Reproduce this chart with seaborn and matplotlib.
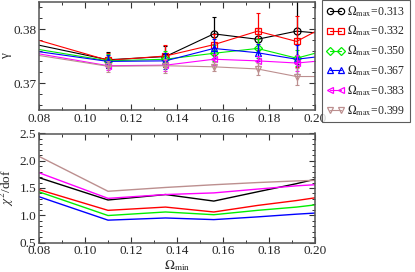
import matplotlib
matplotlib.use("Agg")
import matplotlib.pyplot as plt
from matplotlib.lines import Line2D
from matplotlib.ticker import MultipleLocator
import seaborn as sns
import pandas as pd

sns.set_style("ticks")
plt.rcParams['font.family'] = ['Liberation Serif', 'DejaVu Serif']
plt.rcParams['mathtext.fontset'] = 'stix'

omega_min = [0.08, 0.11, 0.135, 0.156, 0.175, 0.192, 0.20]
omega_max_labels = ["0.313", "0.332", "0.350", "0.367", "0.383", "0.399"]
colors = ["#000000", "#ff0000", "#00ee00", "#0000ff", "#ff00ff", "#bc8f8f"]
markers = ["o", "s", "D", "^", "<", "v"]

gamma_313 = [0.3770, 0.3743, 0.3749, 0.3791, 0.3781, 0.3796, 0.3793]
gamma_332 = [0.3779, 0.3742, 0.3750, 0.3771, 0.3796, 0.3777, 0.3795]
gamma_350 = [0.3762, 0.3741, 0.3744, 0.3755, 0.3764, 0.3746, 0.3755]
gamma_367 = [0.3758, 0.3740, 0.3741, 0.3764, 0.3756, 0.3744, 0.3748]
gamma_383 = [0.3754, 0.3732, 0.3733, 0.3744, 0.3741, 0.3737, 0.3740]
gamma_399 = [0.3751, 0.3731, 0.3732, 0.3730, 0.3726, 0.3712, 0.3712]

err_313 = [0.0, 0.0015, 0.0020, 0.0032, 0.0020, 0.0060, 0.0]
err_332 = [0.0, 0.0014, 0.0020, 0.0020, 0.0034, 0.0048, 0.0]
err_350 = [0.0, 0.0012, 0.0015, 0.0015, 0.0018, 0.0015, 0.0]
err_367 = [0.0, 0.0012, 0.0015, 0.0018, 0.0016, 0.0027, 0.0]
err_383 = [0.0, 0.0008, 0.0010, 0.0010, 0.0009, 0.0014, 0.0]
err_399 = [0.0, 0.0010, 0.0013, 0.0008, 0.0011, 0.0016, 0.0]

chi2_313 = [1.69, 1.28, 1.38, 1.26, 1.43, 1.58, 1.66]
chi2_332 = [1.47, 1.09, 1.15, 1.06, 1.18, 1.27, 1.32]
chi2_350 = [1.43, 0.995, 1.06, 1.01, 1.09, 1.15, 1.19]
chi2_367 = [1.34, 0.91, 0.95, 0.92, 0.97, 1.02, 1.04]
chi2_383 = [1.78, 1.31, 1.38, 1.41, 1.48, 1.54, 1.56]
chi2_399 = [2.08, 1.44, 1.51, 1.56, 1.60, 1.63, 1.64]

gammas = [gamma_313, gamma_332, gamma_350, gamma_367, gamma_383, gamma_399]
errs = [err_313, err_332, err_350, err_367, err_383, err_399]
chi2s = [chi2_313, chi2_332, chi2_350, chi2_367, chi2_383, chi2_399]

fig = plt.figure(figsize=(4.15, 2.72), dpi=100)
ax1 = fig.add_axes([39/415, 1-110/272, 276/415, 108/272])
ax2 = fig.add_axes([39/415, 1-242.5/272, 276/415, 109/272])

FS = 9.5
inner = [1, 2, 3, 4, 5]

for lab, c, m, g, e, ch in zip(omega_max_labels, colors, markers, gammas, errs, chi2s):
    df = pd.DataFrame({"x": omega_min, "g": g, "chi": ch})
    sns.lineplot(data=df, x="x", y="g", ax=ax1, color=c, lw=0.8,
                 marker=m, markevery=inner, markersize=5 if m != "D" else 4,
                 markerfacecolor="none", markeredgecolor=c, markeredgewidth=0.9,
                 errorbar=None, sort=False)
    xi = [omega_min[i] for i in inner]
    ax1.errorbar(xi, [g[i] for i in inner], yerr=[e[i] for i in inner],
                 fmt="none", ecolor=c, elinewidth=0.9, capsize=1.5, capthick=0.8)
    sns.lineplot(data=df, x="x", y="chi", ax=ax2, color=c, lw=1.0,
                 errorbar=None, sort=False)

for ax in (ax1, ax2):
    ax.set_xlim(0.08, 0.20)
    ax.xaxis.set_major_locator(MultipleLocator(0.02))
    ax.xaxis.set_minor_locator(MultipleLocator(0.01))
    ax.xaxis.set_major_formatter(matplotlib.ticker.FormatStrFormatter("%.2f"))
    ax.tick_params(which="both", direction="in", top=True, right=True,
                   labelsize=FS, color="#333333", pad=2)
    ax.tick_params(which="major", length=4, width=0.8)
    ax.tick_params(which="minor", length=2, width=0.7)
    for s in ax.spines.values():
        s.set_linewidth(1.1)
        s.set_color("#555555")
    ax.set_xlabel("")

ax1.set_ylim(0.365, 0.385)
ax1.yaxis.set_major_locator(MultipleLocator(0.01))
ax1.yaxis.set_minor_locator(MultipleLocator(0.002))
ax1.yaxis.set_major_formatter(matplotlib.ticker.FormatStrFormatter("%.2f"))
ax1.set_ylabel("γ", fontsize=FS)
ax1.yaxis.set_label_coords(-0.098, 0.5)

ax2.set_ylim(0.5, 2.5)
ax2.yaxis.set_major_locator(MultipleLocator(0.5))
ax2.yaxis.set_minor_locator(MultipleLocator(0.1))
ax2.yaxis.set_major_formatter(matplotlib.ticker.FormatStrFormatter("%.1f"))
ax2.set_ylabel(r"$\chi^2$/dof", fontsize=FS)
ax2.yaxis.set_label_coords(-0.083, 0.5)
ax2.set_xlabel(r"$\Omega_{\mathrm{min}}$", fontsize=FS, labelpad=1)

handles = [Line2D([0], [0], color=c, lw=0.8, marker=m,
                  markersize=4.5 if m != "D" else 3.8, markerfacecolor="none",
                  markeredgecolor=c, markeredgewidth=0.9)
           for c, m in zip(colors, markers)]
labels = [r"$\Omega_{\mathrm{max}}$=" + l for l in omega_max_labels]
leg = fig.legend(handles, labels, loc="upper left", bbox_to_anchor=(322/415, 1.0),
                 numpoints=2, handlelength=1.6, handletextpad=0.2,
                 labelspacing=0.45, borderpad=0.35, borderaxespad=0,
                 fontsize=8.5, frameon=True, fancybox=False)
leg.get_frame().set_edgecolor("#333333")
leg.get_frame().set_linewidth(0.8)

fig.savefig("out.png", dpi=100)
